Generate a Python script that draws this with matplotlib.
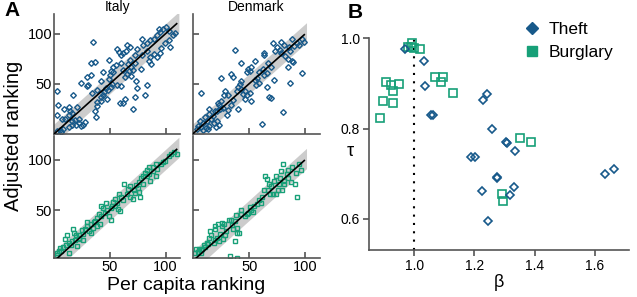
import numpy as np
import matplotlib
matplotlib.use("Agg")
from matplotlib import pyplot as plt
from matplotlib.lines import Line2D

plt.rcParams['font.family'] = ['Liberation Sans', 'DejaVu Sans']

# colours
THEFT = '#17598a'
BURGLARY = '#17a078'
SPINE = '#555555'
BAND = '#cccccc'

# ---- panel A data (per capita ranking, adjusted ranking) ----
n_italy = 110
n_denmark = 99

italy_theft_x = [35.0, 93.7, 97.3, 95.2, 91.9, 100.3, 103.3, 106.3, 108.4, 103.3, 103.9, 96.1, 99.4,
                 89.5, 85.9, 82.9, 78.7, 79.3, 74.6, 68.0, 65.6, 64.4, 62.0, 56.3, 57.8, 60.2, 78.4,
                 83.5, 85.9, 84.7, 87.1, 92.5, 89.8, 94.9, 72.8, 68.0, 66.2, 69.2, 67.4, 71.0, 65.6,
                 63.8, 68.6, 72.8, 77.5, 62.0, 59.6, 55.4, 52.4, 51.2, 48.8, 36.2, 32.6, 43.4, 32.6,
                 29.6, 29.0, 24.3, 42.2, 52.4, 50.0, 49.4, 51.8, 48.2, 46.4, 44.6, 43.4, 42.2, 38.6,
                 38.0, 36.2, 37.4, 41.6, 47.0, 51.2, 56.0, 60.2, 73.4, 74.6, 83.5, 62.0, 59.0, 63.8,
                 71.0, 72.2, 81.1, 16.5, 2.7, 3.3, 2.1, 8.7, 12.9, 15.9, 20.1, 14.1, 6.9, 9.9, 13.5,
                 15.9, 18.9, 22.5, 21.9, 23.7, 27.2, 26.0, 19.5, 15.9, 12.9, 8.1, 5.1, 2.7, 6.3,
                 30.2, 33.8, 38.0]
italy_theft_y = [91.7, 104.4, 104.4, 101.7, 98.4, 106.4, 103.0, 98.4, 101.0, 93.7, 87.0, 85.7, 90.4,
                 95.0, 93.7, 90.4, 94.4, 88.4, 85.0, 87.0, 88.4, 82.4, 81.0, 84.4, 81.7, 79.0, 79.0,
                 82.4, 77.0, 73.0, 69.7, 77.0, 79.7, 81.0, 78.4, 73.7, 69.7, 66.4, 63.0, 63.7, 59.7,
                 57.0, 57.7, 70.4, 65.0, 63.7, 70.4, 69.0, 66.4, 63.0, 73.7, 71.7, 70.4, 61.7, 58.4,
                 56.4, 47.7, 51.0, 53.0, 61.7, 58.4, 54.4, 49.7, 43.7, 45.7, 41.7, 38.4, 36.4, 31.7,
                 27.7, 22.4, 16.4, 33.0, 35.0, 47.0, 49.0, 47.7, 53.0, 45.7, 48.4, 30.4, 30.4, 34.4,
                 24.4, 36.4, 38.4, 39.0, 43.0, 28.4, 18.4, 24.4, 27.0, 20.4, 26.4, 23.0, 14.4, 15.0,
                 19.0, 12.4, 13.7, 14.4, 10.4, 7.7, 11.7, 8.4, 9.0, 8.4, 6.4, 5.0, 3.7, 2.4, 1.7,
                 48.4, 41.0, 43.7]

denmark_theft_x = [37.0, 6.8, 25.2, 42.9, 34.0, 35.8, 54.8, 48.8, 50.6, 47.7, 51.8, 63.6, 63.1, 71.3,
                   77.9, 81.4, 74.9, 77.3, 78.4, 73.1, 87.9, 92.1, 90.3, 96.8, 94.4, 99.2, 85.0, 86.1,
                   82.0, 84.4, 87.9, 89.1, 84.4, 97.4, 72.5, 66.0, 86.1, 67.8, 69.0, 80.2, 61.3, 66.6,
                   69.0, 61.9, 58.3, 65.4, 63.1, 54.8, 58.3, 56.0, 50.6, 48.3, 51.8, 46.5, 42.9, 40.0,
                   38.8, 41.7, 40.0, 31.1, 28.7, 27.5, 25.2, 23.4, 22.2, 34.0, 31.1, 30.5, 35.8, 26.3,
                   24.0, 21.6, 19.8, 14.5, 13.9, 18.1, 16.3, 11.0, 12.1, 8.6, 6.2, 4.4, 7.4, 3.3, 21.6,
                   18.7, 22.8, 14.5, 13.3, 11.5, 9.2, 20.4, 42.9, 44.1, 45.9, 56.5]
denmark_theft_y = [83.7, 40.4, 55.4, 70.4, 59.7, 57.0, 73.0, 65.0, 63.0, 61.7, 67.0, 80.4, 78.4, 90.4,
                   91.7, 89.0, 86.4, 83.7, 80.4, 82.4, 94.4, 91.0, 87.7, 94.4, 88.4, 91.7, 86.4, 82.4,
                   77.7, 74.4, 73.0, 71.7, 67.0, 61.0, 53.7, 46.4, 50.4, 37.0, 35.7, 21.7, 9.7, 70.4,
                   66.4, 64.4, 61.7, 60.4, 58.4, 53.7, 51.0, 49.0, 40.4, 39.0, 33.0, 34.4, 44.4, 47.0,
                   43.0, 49.7, 25.0, 38.4, 43.0, 39.0, 32.4, 29.0, 31.0, 28.4, 23.7, 18.4, 33.7, 25.7,
                   25.0, 22.4, 23.0, 24.4, 19.7, 17.7, 15.0, 16.4, 12.4, 11.0, 12.4, 7.7, 7.0, 4.4, 12.4,
                   10.4, 8.4, 7.7, 5.0, 5.7, 3.7, 6.4, 52.4, 39.7, 43.0, 55.7]

italy_burglary_x = [104.5, 102.7, 107.5, 109.9, 99.7, 97.9, 96.1, 91.3, 92.5, 88.9, 91.3, 84.8, 83.6,
                    81.2, 80.0, 77.6, 85.4, 83.0, 76.4, 73.4, 71.6, 75.2, 68.0, 66.2, 62.6, 65.0, 62.0,
                    59.6, 58.4, 59.0, 56.0, 54.8, 53.0, 51.8, 50.6, 47.6, 46.4, 44.0, 41.6, 42.2, 40.4,
                    38.7, 36.9, 35.7, 38.0, 41.0, 34.5, 32.7, 29.7, 29.1, 27.3, 24.9, 25.5, 22.5, 21.9,
                    19.5, 18.3, 16.5, 17.7, 15.9, 12.9, 11.7, 10.5, 9.9, 8.1, 5.1, 6.3, 2.7, 2.1, 4.5,
                    13.5, 15.3, 20.1, 22.5, 26.1, 31.5, 33.3, 45.2, 48.8, 50.6, 54.8, 57.2, 68.0, 72.8,
                    76.4, 80.0, 85.9, 88.3, 77.0, 70.4]
italy_burglary_y = [105.6, 103.0, 107.5, 105.6, 99.0, 97.1, 95.1, 95.1, 90.5, 88.6, 83.3, 93.1, 89.9,
                    86.6, 84.0, 82.0, 85.9, 83.3, 78.1, 74.8, 69.6, 72.2, 73.5, 70.9, 75.5, 65.7, 60.5,
                    63.1, 65.7, 48.8, 57.2, 61.1, 57.8, 54.6, 52.0, 50.0, 57.2, 52.0, 53.9, 44.8, 46.1,
                    42.2, 39.5, 38.2, 34.3, 36.9, 32.4, 36.3, 34.3, 38.2, 31.7, 30.4, 26.5, 25.2, 22.5,
                    25.2, 20.6, 31.1, 27.1, 19.2, 17.3, 25.2, 15.3, 21.2, 13.4, 12.7, 9.4, 8.1, 6.2, 10.1,
                    8.1, 15.3, 14.7, 21.9, 20.6, 29.8, 27.8, 46.8, 44.2, 40.3, 54.6, 51.4, 63.1, 67.0,
                    68.3, 75.5, 78.8, 93.1, 63.1, 61.1]

denmark_burglary_x = [80.2, 87.9, 94.4, 96.2, 91.5, 84.4, 83.2, 77.9, 73.7, 77.3, 80.8, 84.4, 87.3, 90.9,
                      81.4, 76.7, 72.5, 64.2, 65.4, 67.2, 69.6, 63.1, 66.6, 68.4, 71.3, 75.5, 79.0, 73.7,
                      92.7, 61.3, 58.3, 60.1, 56.5, 54.2, 50.6, 51.8, 53.6, 48.8, 47.7, 45.9, 42.9, 42.3,
                      38.2, 37.0, 33.5, 31.7, 34.6, 39.4, 41.1, 39.4, 35.2, 29.3, 27.5, 25.8, 25.8, 22.2,
                      19.8, 19.2, 28.1, 24.0, 26.3, 37.0, 15.1, 16.3, 13.9, 21.6, 23.4, 18.7, 12.1, 9.8,
                      11.0, 8.0, 6.8, 4.4, 5.6, 2.7, 2.1, 6.8, 32.9, 39.4, 13.3, 19.2]
denmark_burglary_y = [95.1, 93.1, 95.8, 89.2, 86.6, 89.2, 85.9, 88.6, 83.3, 81.4, 78.8, 82.0, 77.4, 76.1,
                      75.5, 75.5, 78.8, 83.3, 80.7, 76.1, 73.5, 70.2, 69.6, 66.3, 65.7, 70.2, 69.6, 66.3,
                      63.1, 63.1, 60.5, 57.2, 55.9, 54.6, 53.3, 50.0, 48.0, 47.4, 46.1, 44.1, 50.7, 46.1,
                      45.5, 38.9, 40.8, 40.2, 35.6, 32.4, 27.7, 27.1, 31.0, 29.8, 36.9, 34.9, 37.5, 36.3,
                      34.9, 31.7, 25.2, 26.5, 21.9, 19.2, 29.1, 25.2, 22.5, 22.5, 19.9, 17.9, 17.9, 15.3,
                      13.4, 12.1, 10.8, 8.8, 12.1, 11.4, 7.5, 7.5, 4.9, 2.9, 16.7, 20.6]

# ---- panel B data (beta, tau) ----
theft_beta = [0.968, 1.032, 1.036, 1.056, 1.062, 1.229, 1.243, 1.259, 1.305, 1.308, 1.334, 1.189,
              1.203, 1.274, 1.276, 1.224, 1.331, 1.317, 1.245, 1.633, 1.662]
theft_tau = [0.976, 0.950, 0.894, 0.830, 0.830, 0.863, 0.876, 0.799, 0.770, 0.768, 0.750, 0.736,
             0.736, 0.693, 0.691, 0.662, 0.670, 0.653, 0.595, 0.700, 0.710]
burglary_beta = [0.993, 0.979, 0.989, 1.000, 1.020, 0.908, 0.924, 0.951, 0.931, 0.896, 0.929, 0.888,
                 1.070, 1.094, 1.088, 1.130, 1.350, 1.388, 1.292, 1.294]
burglary_tau = [0.990, 0.980, 0.980, 0.978, 0.976, 0.904, 0.896, 0.899, 0.883, 0.861, 0.856, 0.824,
                0.915, 0.914, 0.904, 0.879, 0.780, 0.770, 0.656, 0.639]

W, H = 637, 297
fig = plt.figure(figsize=(W / 100, H / 100), dpi=100)


def px_rect(l, t, r, b):
    # pixel box (top-left origin) -> figure fraction
    return [l / W, 1 - b / H, (r - l) / W, (b - t) / H]


def style(ax, direction):
    for s in ['top', 'right']:
        ax.spines[s].set_visible(False)
    for s in ['left', 'bottom']:
        ax.spines[s].set_color(SPINE)
        ax.spines[s].set_linewidth(1.2)
    ax.tick_params(direction=direction, length=4.5, width=1.2, color=SPINE, labelsize=10.5, pad=1.5)


def rank_panel(rect, xs, ys, n, color, marker, ms, ylim, title=None, ylabels=True, xlabels=True):
    ax = fig.add_axes(px_rect(*rect))
    bx = np.array([-2, n + 2])
    ax.fill_between(bx, bx - 10, bx + 10, color=BAND, lw=0, zorder=1)
    ax.plot(xs, ys, ls='none', marker=marker, ms=ms, mfc='none', mec=color, mew=1.0, zorder=2)
    ax.plot([0, n], [0, n], color='black', lw=1.2, zorder=3)
    ax.set_xlim(0, 113)
    ax.set_ylim(*ylim)
    ax.set_xticks([50, 100])
    ax.set_yticks([50, 100])
    style(ax, 'in')
    if not ylabels:
        ax.set_yticklabels([])
    if not xlabels:
        ax.set_xticklabels([])
    if title:
        ax.set_title(title, fontsize=10, pad=2)
    return ax


rank_panel((54.3, 14, 180, 133.7), italy_theft_x, italy_theft_y, n_italy, THEFT, 'D', 2.9,
           (0, 119.7), title='Italy', xlabels=False)
rank_panel((193, 14, 320, 133.7), denmark_theft_x, denmark_theft_y, n_denmark, THEFT, 'D', 2.9,
           (0, 119.7), title='Denmark', xlabels=False, ylabels=False)
rank_panel((54.3, 136, 180, 258.3), italy_burglary_x, italy_burglary_y, n_italy, BURGLARY, 's', 3.4,
           (2.6, 123.2))
rank_panel((193, 136, 320, 258.3), denmark_burglary_x, denmark_burglary_y, n_denmark, BURGLARY, 's', 3.4,
           (2.6, 123.2), ylabels=False)

fig.text(14 / W, 1 - 136 / H, 'Adjusted ranking', rotation=90, ha='center', va='center', fontsize=14.5)
fig.text(186 / W, 1 - 286 / H, 'Per capita ranking', ha='center', va='center', fontsize=14)
fig.text(4 / W, 1 - 11 / H, 'A', ha='left', va='center', fontsize=15, fontweight='bold')

# ---- panel B ----
axb = fig.add_axes(px_rect(369, 38.3, 629.3, 250))
axb.axvline(1.0, color='black', ls=(0, (1, 3)), lw=1.5, zorder=1)
axb.plot(burglary_beta, burglary_tau, ls='none', marker='s', ms=5.6, mfc='none', mec=BURGLARY,
         mew=1.2, clip_on=False, zorder=2)
axb.plot(theft_beta, theft_tau, ls='none', marker='D', ms=4.4, mfc='none', mec=THEFT,
         mew=1.2, clip_on=False, zorder=3)
axb.set_xlim(0.85, 1.714)
axb.set_ylim(0.531, 1.0)
axb.set_xticks([1.0, 1.2, 1.4, 1.6])
axb.set_yticks([0.6, 0.8, 1.0])
axb.set_xticklabels(['1.0', '1.2', '1.4', '1.6'])
axb.set_yticklabels(['0.6', '0.8', '1.0'])
style(axb, 'out')
axb.tick_params(labelsize=10, pad=2)
axb.set_xlabel('β', fontsize=13, labelpad=1)
fig.text(350 / W, 1 - 151 / H, 'τ', ha='center', va='center', fontsize=13)

handles = [Line2D([], [], ls='none', marker='D', ms=6.5, color=THEFT, label='Theft'),
           Line2D([], [], ls='none', marker='s', ms=7, color=BURGLARY, label='Burglary')]
axb.legend(handles=handles, loc='upper right', bbox_to_anchor=(1.0, 1.15), frameon=False,
           fontsize=12.5, handletextpad=0.4, labelspacing=0.45, handlelength=1.2)
fig.text(348 / W, 1 - 13 / H, 'B', ha='left', va='center', fontsize=15, fontweight='bold')

fig.savefig('out.png', dpi=100)
